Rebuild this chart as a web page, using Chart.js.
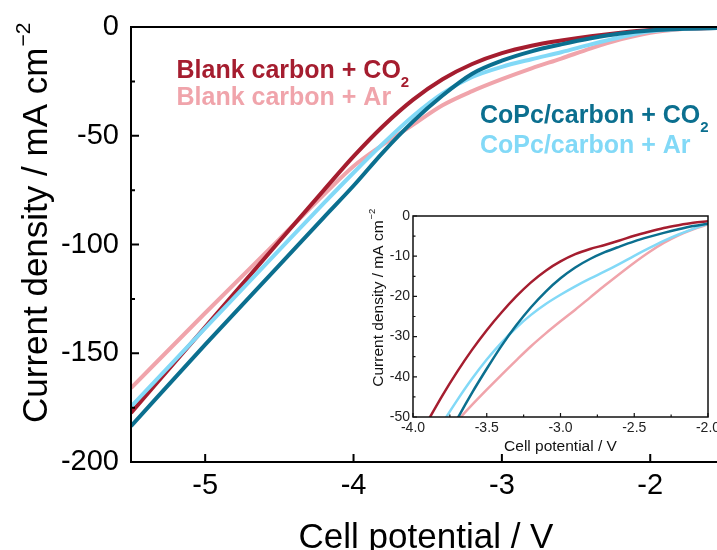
<!DOCTYPE html>
<html>
<head>
<meta charset="utf-8">
<script src="https://cdn.jsdelivr.net/npm/chart.js@4.4.1/dist/chart.umd.min.js"></script>
<style>
html,body{margin:0;padding:0;background:#fff;overflow:hidden;width:717px;height:550px;}
#main{position:absolute;left:0;top:0;}
#inset{position:absolute;left:340px;top:195px;}
</style>
</head>
<body>
<canvas id="main" width="717" height="550"></canvas>
<canvas id="inset" width="390" height="265"></canvas>
<script>
const FONT = '"Liberation Sans", Arial, Helvetica, sans-serif';

// ---- series names and colours ----
const seriesLabels = ['Blank carbon + CO\u2082', 'Blank carbon + Ar', 'CoPc/carbon + CO\u2082', 'CoPc/carbon + Ar'];
const seriesColors = ['#a51d2f', '#f0a4ab', '#0b6f8f', '#82d9f7'];

// ---- main panel data (cell potential / V, current density / mA cm-2) ----
const potentials = [-5.5, -5.0, -4.5, -4.2, -4.0, -3.8, -3.6, -3.4, -3.2, -3.0, -2.8, -2.6, -2.4, -2.2, -2.0, -1.8, -1.55];
const blankCO2 = [-177.4, -138, -98.5, -75, -59.5, -45.5, -33.5, -24, -17, -12, -8.6, -6.2, -4.2, -2.6, -1.4, -0.8, -0.4];
const blankAr  = [-166, -131.5, -97.5, -77, -64, -54, -45, -36, -29.5, -24, -19, -14.5, -9.8, -5.7, -2.6, -1.0, -0.5];
const copcCO2  = [-183.5, -146, -109.5, -87.5, -73, -57.5, -43.5, -31.5, -21.5, -15.5, -11.2, -8, -5.2, -3.0, -1.6, -0.9, -0.5];
const copcAr   = [-174.5, -138.5, -102.5, -81, -67, -53.5, -41, -30.5, -23, -18.3, -14.8, -11.6, -8.0, -4.7, -2.0, -0.9, -0.5];

// ---- inset panel data ----
const insetPotentials = [-3.9, -3.8, -3.7, -3.6, -3.5, -3.4, -3.3, -3.2, -3.1, -3.0, -2.9, -2.8, -2.7, -2.6, -2.5, -2.4, -2.3, -2.2, -2.1, -2.0];
const insetBlankCO2 = [-51, -44.6, -38.7, -33.3, -28.4, -24, -20, -16.5, -13.6, -11.3, -9.5, -8.2, -7.2, -6.1, -4.9, -3.9, -3.0, -2.3, -1.7, -1.3];
const insetBlankAr  = [-60, -55.3, -51, -47, -43.2, -39.5, -35.9, -32.4, -29.2, -26.2, -23.3, -20.3, -17.3, -14.4, -11.6, -9.0, -6.7, -4.8, -3.3, -2.1];
const insetCopcCO2  = [-65, -57.5, -50.5, -44, -38, -32.3, -27.2, -22.7, -18.8, -15.5, -12.8, -10.7, -9.0, -7.6, -6.3, -5.2, -4.2, -3.3, -2.5, -1.9];
const insetCopcAr   = [-57.5, -51.5, -45.8, -40.5, -35.7, -31.5, -27.8, -24.6, -21.9, -19.6, -17.5, -15.6, -13.8, -11.9, -9.9, -8.0, -6.2, -4.6, -3.2, -1.9];

// ---- ticks ----
const xTickValues = [-5, -4, -3, -2];
const yTickValues = [-200, -150, -100, -50, 0];
const yMinorTicks = [-175, -125, -75, -25];
const insetXTicks = [-4.0, -3.5, -3.0, -2.5, -2.0];
const insetXMinor = [-3.75, -3.25, -2.75, -2.25];
const insetYTicks = [-50, -40, -30, -20, -10, 0];
const insetYMinor = [-45, -35, -25, -15, -5];

const drawOrder = [2, 3, 0, 1];

function mkSets(xs, seriesList, width) {
  return seriesList.map((ys, i) => ({
    label: seriesLabels[i],
    data: xs.map((x, j) => ({ x: x, y: ys[j] })),
    borderColor: seriesColors[i],
    backgroundColor: seriesColors[i],
    borderWidth: width,
    pointRadius: 0,
    fill: false,
    order: drawOrder[i],
    clip: 0,
    cubicInterpolationMode: 'monotone'
  }));
}

// draws text; characters U+2082 become subscripts
function drawRich(ctx, text, x, y, size, weight, subSize, subDy) {
  let cx = x;
  const parts = text.split(/(\u2082)/);
  parts.forEach(p => {
    if (!p) return;
    if (p === '\u2082') {
      ctx.font = weight + ' ' + subSize + 'px ' + FONT;
      ctx.fillText('2', cx, y + subDy);
      cx += ctx.measureText('2').width;
    } else {
      ctx.font = weight + ' ' + size + 'px ' + FONT;
      ctx.fillText(p, cx, y);
      cx += ctx.measureText(p).width;
    }
  });
}

function drawYTitle(ctx, x, y, size, supSize, supRise) {
  ctx.save();
  ctx.translate(x, y);
  ctx.rotate(-Math.PI / 2);
  ctx.textAlign = 'left';
  ctx.textBaseline = 'alphabetic';
  ctx.font = size + 'px ' + FONT;
  const main = 'Current density / mA cm';
  ctx.fillText(main, 0, 0);
  const w = ctx.measureText(main).width;
  ctx.font = supSize + 'px ' + FONT;
  ctx.fillText('\u22122', w + 1, -supRise);
  ctx.restore();
}

const mainDecor = {
  id: 'mainDecor',
  afterDraw(chart) {
    const ctx = chart.ctx, a = chart.chartArea, xs = chart.scales.x, ys = chart.scales.y;
    ctx.save();
    ctx.strokeStyle = '#000';
    ctx.lineWidth = 2;
    ctx.beginPath();
    ctx.moveTo(a.left - 1, a.top); ctx.lineTo(a.right + 2, a.top);
    ctx.moveTo(a.left, a.top - 1); ctx.lineTo(a.left, a.bottom + 1);
    ctx.moveTo(a.left - 1, a.bottom); ctx.lineTo(a.right + 2, a.bottom);
    yTickValues.forEach(v => { const y = ys.getPixelForValue(v); ctx.moveTo(a.left, y); ctx.lineTo(a.left + 8, y); });
    yMinorTicks.forEach(v => { const y = ys.getPixelForValue(v); ctx.moveTo(a.left, y); ctx.lineTo(a.left + 4, y); });
    xTickValues.forEach(v => { const x = xs.getPixelForValue(v); ctx.moveTo(x, a.bottom); ctx.lineTo(x, a.bottom - 8); });
    ctx.stroke();

    // axis titles
    ctx.fillStyle = '#000';
    ctx.font = '35px ' + FONT;
    ctx.textAlign = 'center';
    ctx.textBaseline = 'alphabetic';
    ctx.fillText('Cell potential / V', 426, 548);
    drawYTitle(ctx, 46.5, 423, 35, 21, 17);

    // series labels
    ctx.textAlign = 'left';
    const pos = [[176.5, 78.3], [176.5, 105], [480, 123.3], [480, 153.3]];
    seriesLabels.forEach((t, i) => {
      ctx.fillStyle = seriesColors[i];
      drawRich(ctx, t, pos[i][0], pos[i][1], 25, 'bold', 15, 9);
    });
    ctx.restore();
  }
};

const insetDecor = {
  id: 'insetDecor',
  afterDraw(chart) {
    const ctx = chart.ctx, a = chart.chartArea, xs = chart.scales.x, ys = chart.scales.y;
    ctx.save();
    ctx.strokeStyle = '#111';
    ctx.lineWidth = 1.5;
    ctx.strokeRect(a.left, a.top, a.right - a.left, a.bottom - a.top);
    ctx.beginPath();
    ctx.lineWidth = 1.2;
    insetYTicks.forEach(v => { const y = ys.getPixelForValue(v); ctx.moveTo(a.left, y); ctx.lineTo(a.left + 4, y); });
    insetYMinor.forEach(v => { const y = ys.getPixelForValue(v); ctx.moveTo(a.left, y); ctx.lineTo(a.left + 2.5, y); });
    insetXTicks.forEach(v => { const x = xs.getPixelForValue(v); ctx.moveTo(x, a.bottom); ctx.lineTo(x, a.bottom - 4); });
    insetXMinor.forEach(v => { const x = xs.getPixelForValue(v); ctx.moveTo(x, a.bottom); ctx.lineTo(x, a.bottom - 2.5); });
    ctx.stroke();

    ctx.fillStyle = '#111';
    ctx.font = '15.5px ' + FONT;
    ctx.textAlign = 'center';
    ctx.textBaseline = 'alphabetic';
    ctx.fillText('Cell potential / V', (a.left + a.right) / 2, 256);
    drawYTitle(ctx, 43, 191.7, 15.5, 9.5, 8);
    ctx.restore();
  }
};

Chart.defaults.font.family = FONT;

new Chart(document.getElementById('main'), {
  type: 'line',
  data: { datasets: mkSets(potentials, [blankCO2, blankAr, copcCO2, copcAr], 4) },
  options: {
    responsive: false,
    animation: false,
    devicePixelRatio: 1,
    layout: { padding: { top: 27, right: 0, bottom: 0, left: 0 } },
    plugins: { legend: { display: false }, tooltip: { enabled: false } },
    scales: {
      x: {
        type: 'linear', min: -5.5, max: -1.55,
        grid: { display: false, drawTicks: false },
        border: { display: false },
        afterBuildTicks: s => { s.ticks = xTickValues.map(v => ({ value: v })); },
        ticks: { font: { size: 29 }, color: '#000', padding: 7, maxRotation: 0, autoSkip: false, callback: v => String(v) },
        afterFit: s => { s.height = 88; s.paddingLeft = 0; s.paddingRight = 0; }
      },
      y: {
        type: 'linear', min: -200, max: 0,
        grid: { display: false, drawTicks: false },
        border: { display: false },
        afterBuildTicks: s => { s.ticks = yTickValues.map(v => ({ value: v })); },
        ticks: { font: { size: 29 }, color: '#000', padding: 12, autoSkip: false, callback: v => String(v) },
        afterFit: s => { s.width = 131; s.paddingTop = 0; s.paddingBottom = 0; }
      }
    }
  },
  plugins: [mainDecor]
});

new Chart(document.getElementById('inset'), {
  type: 'line',
  data: { datasets: mkSets(insetPotentials, [insetBlankCO2, insetBlankAr, insetCopcCO2, insetCopcAr], 2.5) },
  options: {
    responsive: false,
    animation: false,
    devicePixelRatio: 1,
    layout: { padding: { top: 21, right: 22, bottom: 0, left: 0 } },
    plugins: { legend: { display: false }, tooltip: { enabled: false } },
    scales: {
      x: {
        type: 'linear', min: -4, max: -2,
        grid: { display: false, drawTicks: false },
        border: { display: false },
        afterBuildTicks: s => { s.ticks = insetXTicks.map(v => ({ value: v })); },
        ticks: { font: { size: 14 }, color: '#222', padding: 3, maxRotation: 0, autoSkip: false, callback: v => Number(v).toFixed(1) },
        afterFit: s => { s.height = 43; s.paddingLeft = 0; s.paddingRight = 0; }
      },
      y: {
        type: 'linear', min: -50, max: 0,
        grid: { display: false, drawTicks: false },
        border: { display: false },
        afterBuildTicks: s => { s.ticks = insetYTicks.map(v => ({ value: v })); },
        ticks: { font: { size: 14 }, color: '#222', padding: 3, autoSkip: false, callback: v => String(v) },
        afterFit: s => { s.width = 73; s.paddingTop = 0; s.paddingBottom = 0; }
      }
    }
  },
  plugins: [insetDecor]
});
</script>
</body>
</html>
